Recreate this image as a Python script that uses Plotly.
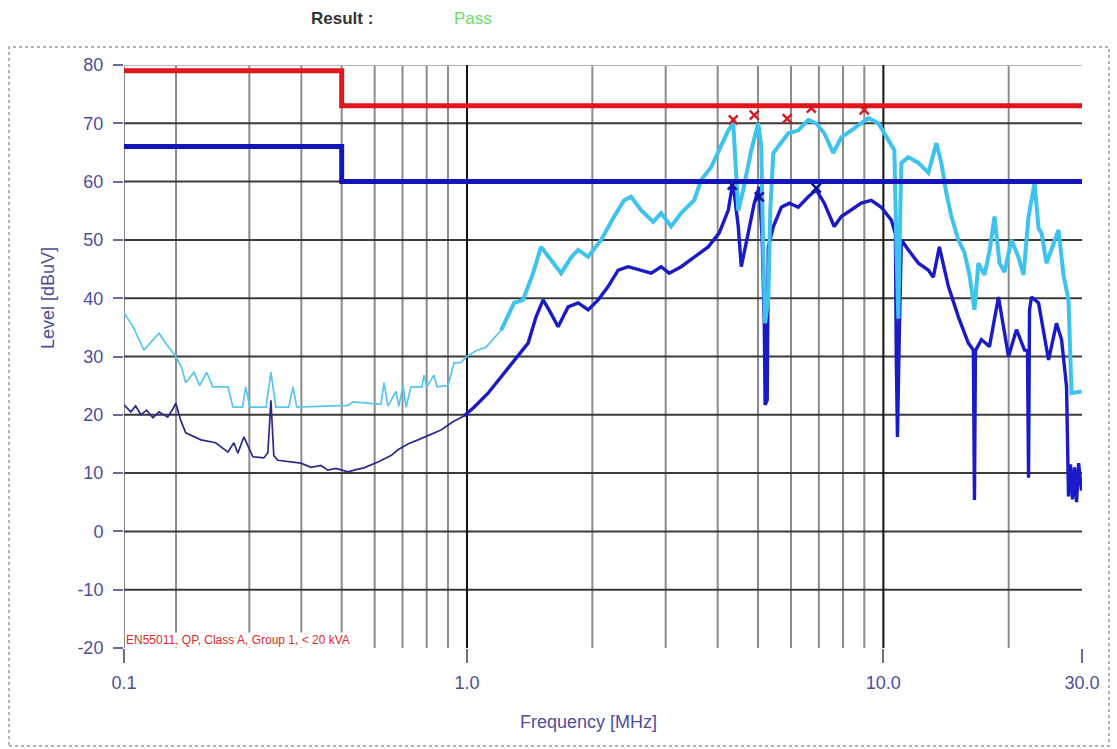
import plotly.graph_objects as go

# ---------------- data ----------------
# Peak (light blue) trace: frequency [MHz], level [dBuV]
PK_F = [0.15, 0.158, 0.1675, 0.174, 0.182, 0.190, 0.1998, 0.2065, 0.211, 0.221,
        0.228, 0.237, 0.245, 0.2665, 0.274, 0.289, 0.294, 0.301, 0.329, 0.338,
        0.3475, 0.373, 0.382, 0.390, 0.518, 0.532, 0.621, 0.632, 0.6457, 0.675,
        0.686, 0.702, 0.714, 0.7334, 0.7795, 0.788, 0.801, 0.833, 0.847, 0.900,
        0.9306, 0.967, 1.0, 1.051, 1.111, 1.207, 1.297, 1.363, 1.441, 1.506,
        1.574, 1.683, 1.778, 1.849, 1.954, 2.099, 2.256, 2.384, 2.478, 2.619,
        2.80, 2.926, 3.092, 3.268, 3.513, 3.652, 3.860, 4.035, 4.242, 4.36,
        4.433, 4.482, 4.608, 4.816, 5.006, 5.09, 5.146, 5.20, 5.292, 5.35,
        5.441, 5.688, 5.909, 6.247, 6.603, 6.90, 7.213, 7.58, 7.925, 8.375,
        8.851, 9.204, 9.727, 10.165, 10.627, 10.74, 10.865, 10.98, 11.047, 11.48,
        12.14, 12.83, 13.41, 13.78, 14.17, 14.57, 15.14, 15.66, 16.10, 16.55,
        16.91, 17.49, 17.98, 18.49, 19.01, 19.54, 20.31, 21.12, 21.71, 22.32,
        23.07, 23.59, 23.98, 24.65, 25.35, 26.34, 27.08, 27.84, 28.31, 29.92]
PK_L = [37.5, 35.0, 31.1, 32.5, 34.0, 32.0, 30.0, 28.0, 25.5, 27.3,
        25.0, 27.3, 24.8, 24.8, 21.3, 21.3, 24.8, 21.3, 21.3, 27.3,
        21.3, 21.3, 24.8, 21.3, 21.6, 22.2, 21.8, 25.5, 21.5, 24.0,
        21.5, 25.0, 21.3, 24.8, 24.8, 26.8, 24.8, 26.8, 24.8, 25.0,
        28.9, 29.0, 30.0, 31.0, 31.6, 34.5, 39.2, 39.7, 44.3, 48.8,
        47.1, 44.3, 47.0, 48.3, 47.1, 50.0, 54.0, 56.8, 57.4, 55.1,
        53.1, 54.6, 52.3, 54.6, 56.8, 60.3, 62.5, 65.4, 68.8, 70.0,
        59.7, 55.0, 58.6, 65.4, 70.0, 66.0, 48.0, 35.7, 40.0, 55.0,
        64.9, 66.6, 68.3, 68.8, 70.6, 70.0, 68.3, 64.9, 67.6, 68.8,
        70.0, 70.9, 70.0, 67.6, 65.4, 50.0, 36.5, 55.0, 63.2, 64.2,
        63.2, 61.5, 66.6, 63.2, 58.0, 54.0, 50.0, 47.8, 44.0, 38.0,
        46.0, 44.0, 48.0, 54.0, 46.0, 44.5, 50.0, 47.0, 44.0, 54.0,
        59.7, 52.0, 51.2, 46.0, 48.3, 51.7, 44.0, 39.7, 23.7, 24.0]

# Average (dark blue) trace
AV_F = [0.15, 0.1557, 0.160, 0.1646, 0.170, 0.176, 0.182, 0.191, 0.1965, 0.1998,
        0.2054, 0.211, 0.2295, 0.249, 0.2665, 0.2754, 0.2815, 0.291, 0.306, 0.325,
        0.3324, 0.338, 0.3435, 0.3513, 0.399, 0.4217, 0.4457, 0.4634, 0.4845, 0.518,
        0.541, 0.5654, 0.611, 0.6567, 0.6826, 0.721, 0.7625, 0.810, 0.866, 0.925,
        0.9835, 1.0395, 1.1233, 1.207, 1.297, 1.402, 1.465, 1.523, 1.574, 1.655,
        1.749, 1.849, 1.954, 2.065, 2.182, 2.307, 2.438, 2.619, 2.769, 2.926,
        3.059, 3.268, 3.513, 3.796, 4.035, 4.242, 4.335, 4.384, 4.482, 4.557,
        4.737, 4.897, 5.034, 5.117, 5.176, 5.20, 5.26, 5.292, 5.441, 5.688,
        5.943, 6.247, 6.603, 6.90, 7.213, 7.62, 7.925, 8.375, 8.851, 9.354,
        9.887, 10.45, 10.69, 10.74, 10.81, 10.93, 11.047, 11.48, 12.14, 12.83,
        13.18, 13.63, 14.33, 15.14, 16.0, 16.45, 16.55, 16.64, 17.2, 17.98,
        18.9, 19.98, 20.88, 21.83, 22.19, 22.32, 22.44, 22.69, 23.59, 24.93,
        26.05, 26.79, 27.54, 27.84, 28.15, 28.47, 28.79, 29.11, 29.44, 29.92]
AV_L = [21.7, 20.5, 21.5, 20.0, 20.8, 19.5, 20.5, 19.6, 21.0, 22.0,
        19.0, 16.9, 15.7, 15.2, 13.6, 15.2, 13.4, 16.2, 12.8, 12.6,
        13.5, 22.5, 13.0, 12.2, 11.7, 11.0, 11.3, 10.5, 10.8, 10.2,
        10.6, 10.9, 11.9, 13.0, 14.0, 15.0, 15.7, 16.5, 17.4, 18.8,
        19.8, 21.3, 23.7, 26.5, 29.4, 32.3, 36.8, 39.7, 38.0, 35.1,
        38.5, 39.2, 38.0, 39.7, 42.0, 44.8, 45.4, 44.8, 44.3, 45.4,
        44.3, 45.4, 47.1, 48.8, 51.2, 55.1, 59.3, 58.0, 52.3, 45.4,
        51.2, 56.3, 59.1, 50.0, 35.7, 21.7, 22.5, 48.8, 52.3, 55.6,
        56.3, 55.6, 57.4, 58.6, 56.3, 52.3, 54.0, 55.1, 56.3, 56.8,
        55.6, 53.4, 51.0, 30.0, 16.2, 35.0, 50.0, 48.3, 46.0, 44.8,
        43.6, 48.8, 42.0, 36.8, 32.3, 31.1, 5.4, 31.0, 32.9, 31.7,
        40.2, 30.0, 34.6, 31.1, 31.0, 9.2, 38.0, 40.2, 39.2, 29.4,
        35.7, 32.9, 24.8, 6.0, 11.5, 5.5, 11.0, 5.0, 11.7, 7.0]

# Limit lines EN55011 Class A Group 1 (< 20 kVA)
LIM_F = [0.15, 0.5, 0.5, 30.0]
LIM_QP = [79, 79, 73, 73]
LIM_AV = [66, 66, 60, 60]

# Marked peaks
MK_QP_F = [4.36, 4.897, 5.875, 6.714, 9.0]
MK_QP_L = [70.6, 71.4, 70.8, 72.6, 72.3]
MK_AV_F = [4.335, 5.034, 6.90]
MK_AV_L = [59.4, 57.4, 58.9]

# Axis ticks
X_TICKS = [0.15, 1.0, 10.0, 30.0]
X_TICKTEXT = ["0.1", "1.0", "10.0", "30.0"]
Y_TICKS = [-20, -10, 0, 10, 20, 30, 40, 50, 60, 70, 80]
Y_TICKTEXT = ["-20", "-10", "0", "10", "20", "30", "40", "50", "60", "70", "80"]
GRID_F_MINOR = [0.15, 0.2, 0.3, 0.4, 0.5, 0.6, 0.7, 0.8, 0.9,
                2, 3, 4, 5, 6, 7, 8, 9, 20]
GRID_F_MAJOR = [1.0, 10.0]
GRID_L = [-10, 0, 10, 20, 30, 40, 50, 60, 70]

# split points between thin (low frequency) and thick (high frequency) drawing
PK_SPLIT_F = 1.207
AV_SPLIT_F = 0.9835

# ---------------- figure ----------------
W, H = 1117, 749
ML, MR, MT, MB = 124, 35, 65, 101
PW, PH = W - ML - MR, H - MT - MB


def px(xp):
    return (xp - ML) / PW


def py(yp):
    return (H - MB - yp) / PH


TXT = "#4e4e9c"
FONT = "Liberation Sans, Arial, sans-serif"

fig = go.Figure()


def vlines(freqs, color, width):
    xs, ys = [], []
    for f in freqs:
        xs += [f, f, None]
        ys += [-20, 80, None]
    fig.add_trace(go.Scatter(x=xs, y=ys, mode="lines", hoverinfo="skip",
                             line=dict(color=color, width=width), showlegend=False))


def hlines(levels, color, width):
    xs, ys = [], []
    for lv in levels:
        xs += [0.15, 30.0, None]
        ys += [lv, lv, None]
    fig.add_trace(go.Scatter(x=xs, y=ys, mode="lines", hoverinfo="skip",
                             line=dict(color=color, width=width), showlegend=False))


def segment(fs, ls, lo, hi):
    xs = [f for f in fs if lo <= f <= hi]
    ys = [l for f, l in zip(fs, ls) if lo <= f <= hi]
    return xs, ys


vlines(GRID_F_MINOR, "#8c8c8c", 2)
hlines([80], "#b4b4b4", 2)
hlines(GRID_L, "#3a3a3a", 2)
vlines(GRID_F_MAJOR, "#111111", 2)

# average trace (thin dark at low frequencies, thick above)
x, y = segment(AV_F, AV_L, 0, AV_SPLIT_F)
fig.add_trace(go.Scatter(x=x, y=y, mode="lines", showlegend=False,
                         line=dict(color="#2a2a8e", width=1.7)))
x, y = segment(AV_F, AV_L, AV_SPLIT_F, 100)
fig.add_trace(go.Scatter(x=x, y=y, mode="lines", showlegend=False,
                         line=dict(color="#1a1ac6", width=3.4)))
# peak trace
x, y = segment(PK_F, PK_L, 0, PK_SPLIT_F)
fig.add_trace(go.Scatter(x=x, y=y, mode="lines", showlegend=False,
                         line=dict(color="#56c6ec", width=1.7)))
x, y = segment(PK_F, PK_L, PK_SPLIT_F, 100)
fig.add_trace(go.Scatter(x=x, y=y, mode="lines", showlegend=False,
                         line=dict(color="#3ec2ee", width=4)))
# limits
fig.add_trace(go.Scatter(x=LIM_F, y=LIM_QP, mode="lines", showlegend=False,
                         line=dict(color="#e0161c", width=5)))
fig.add_trace(go.Scatter(x=LIM_F, y=LIM_AV, mode="lines", showlegend=False,
                         line=dict(color="#1414b8", width=5)))
# markers
fig.add_trace(go.Scatter(x=MK_QP_F, y=MK_QP_L, mode="markers", showlegend=False,
                         marker=dict(symbol="x-thin", size=9,
                                     line=dict(color="#d01e24", width=2.5))))
fig.add_trace(go.Scatter(x=MK_AV_F, y=MK_AV_L, mode="markers", showlegend=False,
                         marker=dict(symbol="x-thin", size=9,
                                     line=dict(color="#1010a0", width=2.5))))


def label(text, xw, yw, size, color, **kw):
    d = dict(text=text, xref="paper", yref="paper", x=px(xw), y=py(yw),
             xanchor="center", yanchor="middle", showarrow=False,
             font=dict(size=size, color=color, family=FONT))
    d.update(kw)
    return d


fig.update_layout(
    width=W, height=H,
    margin=dict(l=ML, r=MR, t=MT, b=MB, pad=0),
    paper_bgcolor="white", plot_bgcolor="white",
    font=dict(family=FONT, color=TXT, size=18),
    xaxis=dict(type="log", range=[-0.8239, 1.4771], tickvals=X_TICKS,
               ticktext=X_TICKTEXT, showgrid=False, zeroline=False, showline=False,
               ticks="outside", ticklen=14, tickwidth=2, tickcolor="#6a6a9c",
               tickfont=dict(size=18, color=TXT), ticklabelstandoff=4),
    yaxis=dict(range=[-20, 80], tickvals=Y_TICKS, ticktext=Y_TICKTEXT,
               showgrid=False, zeroline=False,
               showline=False, ticks="outside", ticklen=10, tickwidth=2,
               tickcolor="#6a6a9c", tickfont=dict(size=18, color=TXT),
               ticklabelstandoff=6),
    shapes=[dict(type="rect", xref="paper", yref="paper",
                 x0=px(9), x1=px(1109), y0=py(746), y1=py(47),
                 line=dict(color="#9a9a9a", width=1.5, dash="dot"))],
    annotations=[
        label("<b>Result :</b>", 342, 18, 17, "#333333"),
        label("Pass", 473, 18, 17, "#66dd66"),
        label("Level [dBuV]", 48, 298, 18, TXT, textangle=-90),
        label("Frequency [MHz]", 588, 722, 18, TXT),
        label("EN55011, QP, Class A, Group 1, < 20 kVA", 125, 640, 12, "#e02a2a",
              xanchor="left", bgcolor="white", borderpad=0),
    ],
)

fig.write_html("out.html",
               config={"displayModeBar": False},
               post_script="document.body.style.margin='0';"
                           "document.body.style.overflow='hidden';")
